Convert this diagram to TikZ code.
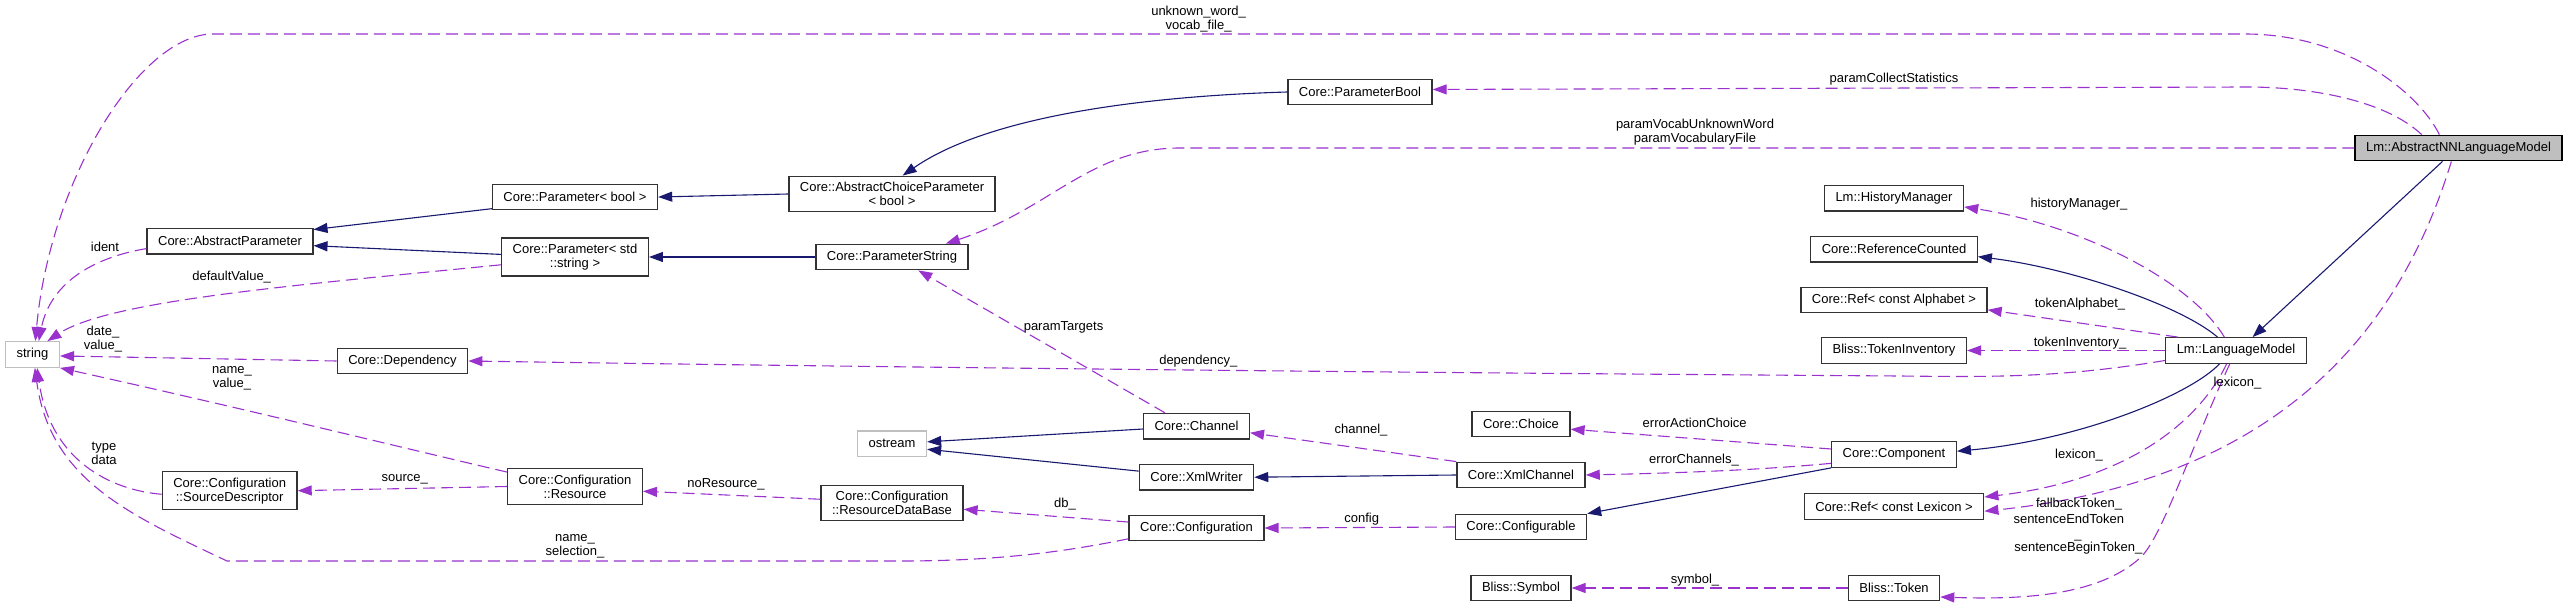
\documentclass[tikz,border=0pt]{standalone}
\usepackage{fontspec}
\setmainfont{Liberation Sans}
\usetikzlibrary{arrows.meta}
\definecolor{inherit}{HTML}{191970}
\definecolor{member}{HTML}{9A32CD}
\definecolor{extern}{HTML}{BFBFBF}
\definecolor{current}{HTML}{BFBFBF}
\tikzset{
  cls/.style={draw=black!80, line width=1.3pt, fill=white, align=center,
    font=\fontsize{13}{14}\selectfont, inner xsep=11pt, inner ysep=6pt,
    minimum height=25.5pt},
  extcls/.style={cls, draw=extern},
  curcls/.style={cls, draw=black, fill=current},
  lbl/.style={font=\fontsize{13}{14}\selectfont, align=center, inner sep=0pt},
  inh/.style={-{Triangle[length=14pt,width=10pt]}, line width=1.1pt, draw=inherit},
  mem/.style={-{Triangle[length=14pt,width=10pt]}, line width=1.1pt, draw=member,
    dash pattern=on 12pt off 6pt}
}
\begin{document}
\begin{tikzpicture}[x=1pt,y=-1pt]
  \useasboundingbox (0,0) rectangle (2568,607);
  % classes
  \node[extcls] (str) at (32.5,354.5) {string};
  \node[cls] (absParam) at (230,241.3) {Core::AbstractParameter};
  \node[cls] (paramBool) at (575,197) {Core::Parameter< bool >};
  \node[cls] (paramStr) at (575,257) {Core::Parameter< std\\::string >};
  \node[cls] (choiceParam) at (892,194) {Core::AbstractChoiceParameter\\< bool >};
  \node[cls] (parameterString) at (892,257) {Core::ParameterString};
  \node[cls] (parameterBool) at (1360,92) {Core::ParameterBool};
  \node[cls] (dependency) at (402.5,361) {Core::Dependency};
  \node[cls] (srcDesc) at (229.7,490.7) {Core::Configuration\\::SourceDescriptor};
  \node[cls] (resource) at (575,486.5) {Core::Configuration\\::Resource};
  \node[cls] (resDB) at (892,503) {Core::Configuration\\::ResourceDataBase};
  \node[extcls] (ostream) at (892,443.7) {ostream};
  \node[cls] (channel) at (1196.5,426.2) {Core::Channel};
  \node[cls] (xmlWriter) at (1196.5,477.2) {Core::XmlWriter};
  \node[cls] (configuration) at (1196.5,528) {Core::Configuration};
  \node[cls] (choice) at (1521,424) {Core::Choice};
  \node[cls] (xmlChannel) at (1521,475) {Core::XmlChannel};
  \node[cls] (configurable) at (1521,527) {Core::Configurable};
  \node[cls] (symbol) at (1521,588) {Bliss::Symbol};
  \node[cls] (historyMgr) at (1894,198.3) {Lm::HistoryManager};
  \node[cls] (refCounted) at (1894,249.3) {Core::ReferenceCounted};
  \node[cls] (refAlphabet) at (1894,300) {Core::Ref< const Alphabet >};
  \node[cls] (tokenInv) at (1894,350.5) {Bliss::TokenInventory};
  \node[cls] (component) at (1894,454.5) {Core::Component};
  \node[cls] (refLexicon) at (1894,506.5) {Core::Ref< const Lexicon >};
  \node[cls] (token) at (1894,588) {Bliss::Token};
  \node[cls] (langModel) at (2236,350.5) {Lm::LanguageModel};
  \node[curcls] (nnModel) at (2458.5,148) {Lm::AbstractNNLanguageModel};

  % inheritance
  \draw[inh] (paramBool.188) -- (absParam.8);
  \draw[inh] (paramStr.178) -- (absParam.-3);
  \draw[inh] (choiceParam.west) -- (paramBool.east);
  \draw[inh] (parameterString.west) -- (paramStr.east);
  \draw[inh] (parameterBool.west) .. controls (1150,96) and (990,115) .. (choiceParam.60);
  \draw[inh] (channel.183) -- (ostream.3);
  \draw[inh] (xmlWriter.174) -- (ostream.-9);
  \draw[inh] (xmlChannel.west) -- (xmlWriter.east);
  \draw[inh] (component.south west) -- (configurable.north east);
  \draw[inh] (langModel.144) .. controls (2180,305) and (2070,268) .. (refCounted.-5);
  \draw[inh] (langModel.-141) .. controls (2190,395) and (2080,440) .. (component.3);
  \draw[inh] (nnModel.-140) -- (langModel.39);

  % members
  \draw[mem] (absParam.185) .. controls (90,258) and (50,285) .. (str.65);
  \draw[mem] (paramStr.186) .. controls (300,285) and (110,300) .. (str.42);
  \draw[mem] (resource.168) .. controls (420,452) and (250,410) .. (str.south east);
  \draw[mem] (srcDesc.183) .. controls (110,490) and (50,460) .. (str.-71);
  \draw[mem] (configuration.189) .. controls (1050,555) and (980,561) .. (900,561)
    -- (227,561) .. controls (130,515) and (50,480) .. (str.-80);
  \draw[mem] (nnModel.145) .. controls (2420,95) and (2350,35) .. (2247,34)
    -- (213,34) .. controls (140,34) and (50,180) .. (str.78);
  \draw[mem] (nnModel.160) .. controls (2385,100) and (2310,87) .. (2247,87)
    -- (parameterBool.2);
  \draw[mem] (nnModel.west) -- (1180,148) .. controls (1090,148) and (1050,210)
    .. (parameterString.14);
  \draw[mem] (langModel.188) .. controls (2060,378) and (1990,377) .. (1900,376)
    .. controls (1300,372) and (800,366) .. (dependency.east);
  \draw[mem] (component.188) .. controls (1760,470) and (1680,473) .. (xmlChannel.east);
  \draw[mem] (langModel.131) .. controls (2190,280) and (2080,225) .. (historyMgr.-7);
  \draw[mem] (langModel.-125) .. controls (2200,420) and (2130,480) .. (refLexicon.6);
  \draw[mem] (nnModel.-118) .. controls (2400,330) and (2280,480) .. (refLexicon.-3);
  \draw[mem] (langModel.-115) .. controls (2190,450) and (2162,538) .. (2140,558)
    .. controls (2100,594) and (2030,600) .. (token.-11);
  \foreach \a/\b in {dependency.west/str.-3, channel.157/parameterString.-27,
      resource.west/srcDesc.east, resDB.177/resource.-4, configuration.175/resDB.-5,
      xmlChannel.north west/channel.-7, configurable.west/configuration.east,
      component.175/choice.-6, langModel.167/refAlphabet.-6,
      langModel.west/tokenInv.east, token.west/symbol.east}
    \draw[mem] (\a) -- (\b);

  % edge labels
  \foreach \px/\py/\nm/\txt in {
      105/247.3/ident/ident,
      231.7/276.7/defVal/defaultValue\_,
      103/339.5/dateVal/{date\_\\value\_},
      232/378/nameVal/{name\_\\value\_},
      104/453.7/typeData/{type\\data},
      575/546/nameSel/{name\_\\selection\_},
      1198.6/19.3/vocab/{unknown\_word\_\\vocab\_file\_},
      1894/78.7/collect/paramCollectStatistics,
      1695/132/vocabParam/{paramVocabUnknownWord\\paramVocabularyFile},
      1063.5/327.7/targets/paramTargets,
      1198.3/360.7/dep/dependency\_,
      404.7/479/source/source\_,
      726/484/noRes/noResource\_,
      1065/504/db/db\_,
      1361/430/chan/channel\_,
      1361.7/518.7/config/config,
      1694.7/422.7/errAction/errorActionChoice,
      1694/460/errChan/errorChannels\_,
      1695/580/sym/symbol\_,
      2079/204.3/hist/historyManager\_,
      2080/304/alpha/tokenAlphabet\_,
      2080/342.7/inv/tokenInventory\_,
      2079/455/lexA/lexicon\_,
      2237.5/382.7/lexB/lexicon\_,
      2079/504.3/fallback/fallbackToken\_,
      2068.8/519.3/sentEnd/sentenceEndToken,
      2078/540/stray/\_,
      2078.3/548.3/sentBegin/sentenceBeginToken\_}
    \node[lbl] (lbl-\nm) at (\px,\py) {\txt};
\end{tikzpicture}
\end{document}
